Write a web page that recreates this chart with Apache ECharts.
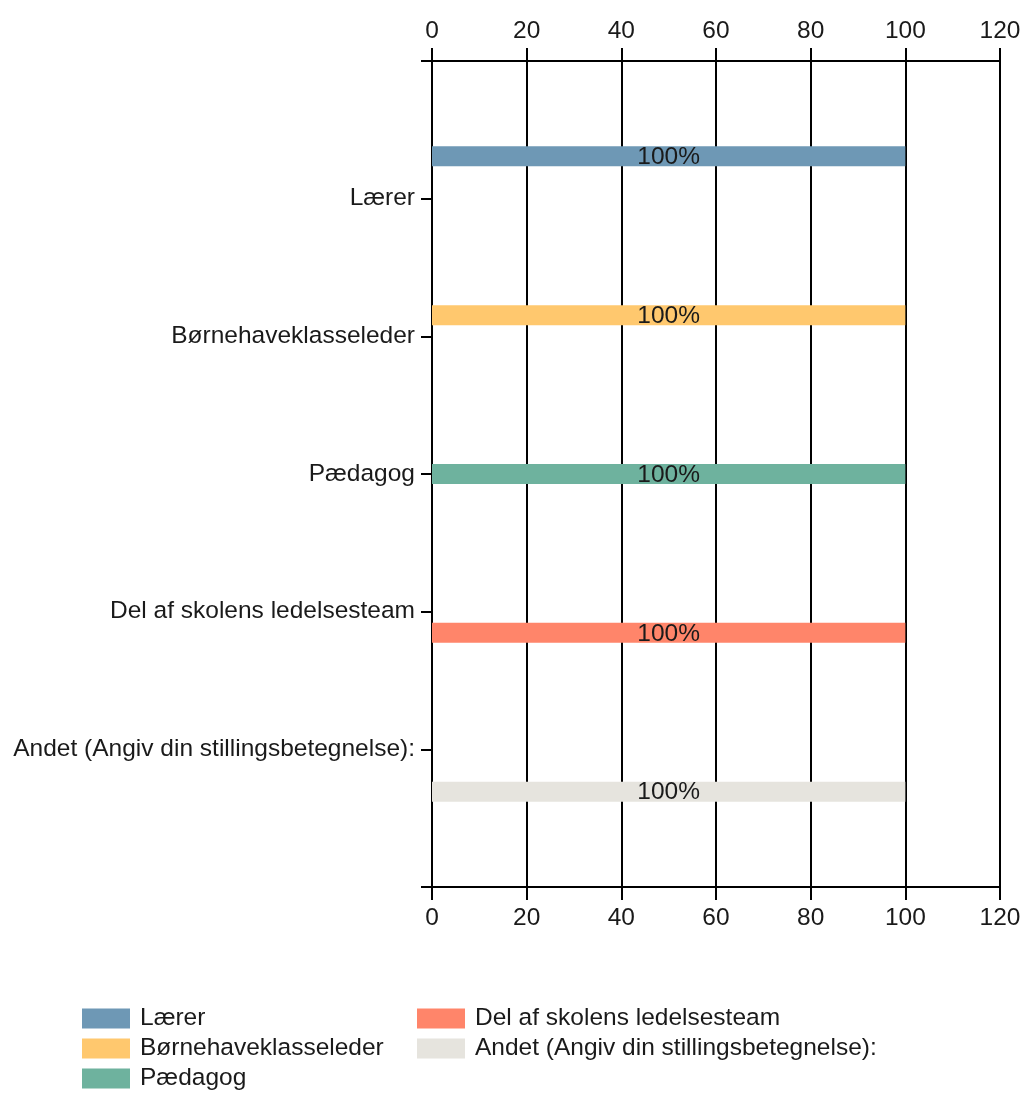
<!DOCTYPE html>
<html>
<head>
<meta charset="utf-8">
<script src="https://cdn.jsdelivr.net/npm/echarts@6/dist/echarts.min.js"></script>
<style>
  html, body { margin: 0; padding: 0; background: #fff; }
  #chart { width: 1025px; height: 1093px; }
</style>
</head>
<body>
<div id="chart"></div>
<script>
// Category axis slots (empty slots at both ends)
const categories = ['', 'Lærer', 'Børnehaveklasseleder', 'Pædagog', 'Del af skolens ledelsesteam', 'Andet (Angiv din stillingsbetegnelse):', ' '];
const seriesNames = ['Lærer', 'Børnehaveklasseleder', 'Pædagog', 'Del af skolens ledelsesteam', 'Andet (Angiv din stillingsbetegnelse):'];
const seriesValues = [100, 100, 100, 100, 100];
const seriesColors = ['#6e98b5', '#ffc86e', '#6eb29e', '#ff856a', '#e6e4de'];
const xTicks = [0, 20, 40, 60, 80, 100, 120];

const FONT = '"Liberation Sans", Arial, sans-serif';
const TXT = '#1a1a1a';
const FS = 24.5;

const series = seriesNames.map((name, i) => ({
  name: name,
  type: 'bar',
  xAxisIndex: 0,
  yAxisIndex: 0,
  barWidth: 20,
  barGap: '6%',
  itemStyle: { color: seriesColors[i] },
  label: {
    show: true,
    position: 'inside',
    offset: [0, 1],
    formatter: '{c}%',
    color: TXT,
    fontFamily: FONT,
    fontSize: FS
  },
  data: categories.map((c, j) => (j === i + 1 ? seriesValues[i] : '-'))
}));

const xAxisCommon = {
  type: 'value',
  min: xTicks[0],
  max: xTicks[xTicks.length - 1],
  interval: 20,
  axisLine: { show: true, lineStyle: { color: '#000', width: 2 } },
  axisTick: { show: true, length: 13, lineStyle: { color: '#000', width: 2 } }
};

const legendCommon = {
  orient: 'vertical',
  top: 1006,
  height: 120,
  padding: 0,
  itemWidth: 48,
  itemHeight: 20,
  itemGap: 5,
  icon: 'rect',
  textStyle: { color: TXT, fontFamily: FONT, fontSize: FS, lineHeight: 20, padding: [0, 0, 0, 5] }
};

const chart = echarts.init(document.getElementById('chart'), null, { renderer: 'canvas' });
chart.setOption({
  animation: false,
  backgroundColor: '#fff',
  textStyle: { fontFamily: FONT },
  grid: { left: 432, right: 25, top: 61, bottom: 206, containLabel: false },
  xAxis: [
    Object.assign({}, xAxisCommon, {
      position: 'top',
      axisLabel: { color: TXT, fontFamily: FONT, fontSize: FS, margin: 17 },
      splitLine: { show: true, lineStyle: { color: '#000', width: 2 } }
    }),
    Object.assign({}, xAxisCommon, {
      position: 'bottom',
      axisLabel: { color: TXT, fontFamily: FONT, fontSize: FS, margin: 19 },
      splitLine: { show: false }
    })
  ],
  yAxis: {
    type: 'category',
    data: categories,
    inverse: true,
    boundaryGap: false,
    axisLine: { show: true, lineStyle: { color: '#000', width: 2 } },
    axisTick: { show: true, length: 11, lineStyle: { color: '#000', width: 2 } },
    axisLabel: { color: TXT, fontFamily: FONT, fontSize: FS, margin: 17, interval: 0, padding: [3, 0, 0, 0] },
    splitLine: { show: false }
  },
  legend: [
    Object.assign({}, legendCommon, { left: 82, data: seriesNames.slice(0, 3) }),
    Object.assign({}, legendCommon, { left: 417, data: seriesNames.slice(3) })
  ],
  series: series
});
</script>
</body>
</html>
